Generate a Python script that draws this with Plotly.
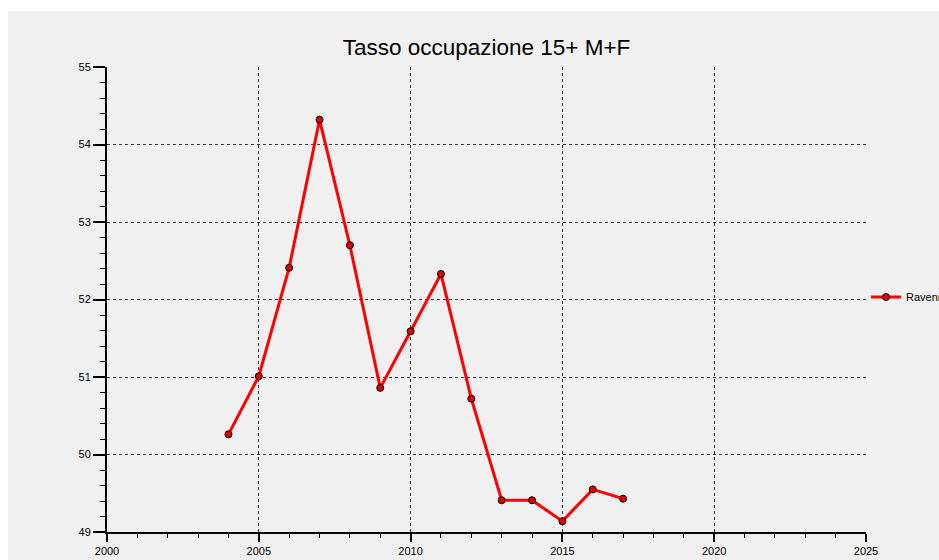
import plotly.graph_objects as go

# values
years = [2004, 2005, 2006, 2007, 2008, 2009, 2010, 2011, 2012, 2013, 2014, 2015, 2016, 2017]
tasso = [50.26, 51.01, 52.41, 54.32, 52.70, 50.86, 51.59, 52.33, 50.72, 49.41, 49.41, 49.14, 49.55, 49.43]
series_name = "Ravenna"
title = "Tasso occupazione 15+ M+F"

BG = "#f0f0f0"
INK = "#000000"
GRID = "#3c3c3c"
FONT = "Liberation Sans, Arial, sans-serif"

fig = go.Figure()
fig.add_trace(go.Scatter(
    x=years, y=tasso, mode="lines+markers", name=series_name,
    line=dict(color="#ff0000", width=3),
    marker=dict(symbol="circle", size=7, color="#e00000", line=dict(color="#000000", width=1))))

# white strips along the top and left edges of the gray window
fig.add_shape(type="rect", xref="paper", yref="paper", layer="below",
              x0=-0.2, x1=1.2, y0=1.1204, y1=1.2,
              fillcolor="white", line=dict(width=0))
fig.add_shape(type="rect", xref="paper", yref="paper", layer="below",
              x0=-0.2, x1=-0.1304, y0=-0.2, y1=1.2,
              fillcolor="white", line=dict(width=0))

fig.update_layout(
    width=939, height=560, autosize=False,
    paper_bgcolor=BG, plot_bgcolor=BG,
    font=dict(family=FONT, color=INK, size=11),
    margin=dict(l=107, r=73, t=67, b=28, autoexpand=False),
    title=dict(text=title, x=0.5, xref="paper", xanchor="center",
               y=1 - 47 / 560, yanchor="middle",
               font=dict(family=FONT, size=22.5, color=INK)),
    showlegend=True,
    legend=dict(xref="container", x=866 / 939, xanchor="left",
                yref="container", y=1 - 297 / 560, yanchor="middle",
                bgcolor="rgba(0,0,0,0)", font=dict(size=11, color=INK),
                borderwidth=0, tracegroupgap=0),
)
fig.update_xaxes(range=[2000, 2025], tick0=2000, dtick=5, automargin=False,
                 showline=True, linecolor="#000000", linewidth=2,
                 ticks="outside", ticklen=8, tickwidth=2, tickcolor="#000000",
                 minor=dict(dtick=1, ticks="outside", ticklen=4, tickwidth=1,
                            tickcolor="#000000", showgrid=False),
                 showgrid=True, gridcolor=GRID, gridwidth=1, griddash="3px,3px",
                 zeroline=False, tickfont=dict(size=11, color=INK))
fig.update_yaxes(range=[49, 55], tick0=49, dtick=1, automargin=False,
                 showline=True, linecolor="#000000", linewidth=2,
                 ticks="outside", ticklen=12, tickwidth=2, tickcolor="#000000",
                 minor=dict(dtick=0.2, ticks="outside", ticklen=5, tickwidth=1,
                            tickcolor="#000000", showgrid=False),
                 showgrid=True, gridcolor=GRID, gridwidth=1, griddash="3px,3px",
                 zeroline=False, tickfont=dict(size=11, color=INK))

# the chart fills the whole window, cut at its right edge
fig.write_html("out.html", default_width="939px", default_height="560px",
               config={"displayModeBar": False, "displaylogo": False},
               post_script="document.body.style.margin='0';document.body.style.overflow='hidden';")
